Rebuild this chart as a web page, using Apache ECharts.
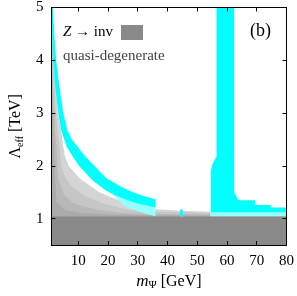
<!DOCTYPE html>
<html><head><meta charset="utf-8">
<script src="https://cdn.jsdelivr.net/npm/echarts@6/dist/echarts.min.js"></script>
<style>html,body{margin:0;padding:0;background:#fff}#c{width:297px;height:296px}</style>
</head><body><div id="c"></div>
<script>
// axis ticks
const xTicks = [10, 20, 30, 40, 50, 60, 70, 80];
const yTicks = [1, 2, 3, 4, 5];
// Z -> inv excluded region upper bound (TeV)
const zInvTop = 1.045;
// quasi-degenerate shaded layers: upper boundary [m_Psi (GeV), Lambda_eff (TeV)]
const quasi1 = [[1,5.2],[1.15,5.0],[1.4,4.5],[2.0,3.8],[3.2,3.0],[4.3,2.67],[5.0,2.36],[5.6,2.18],[6.8,2.0],[10.8,1.75],[17.1,1.5],[23.6,1.35],[30,1.26],[36,1.18],[45,1.15],[55,1.13],[80,1.11]];
const quasi2 = [[1,5.2],[1.1,5.0],[1.5,4.0],[2.2,3.2],[3.0,2.67],[3.8,2.36],[4.3,2.0],[5.5,1.8],[7.5,1.63],[11.9,1.44],[18.3,1.29],[26.8,1.17],[36,1.13],[55,1.11],[80,1.09]];
const quasi3 = [[1,5.2],[1.05,5.0],[1.2,4.0],[1.7,3.2],[2.2,2.67],[2.7,2.36],[3.3,1.75],[5.4,1.44],[8.6,1.29],[16.2,1.17],[24.9,1.11],[36,1.09],[80,1.07]];
const quasi4 = [[1,5.2],[1.02,5.0],[1.1,4.0],[1.4,3.0],[1.8,2.36],[2.2,1.75],[2.7,1.32],[5.4,1.17],[10.8,1.11],[20,1.08],[36,1.065],[80,1.055]];
// cyan band (allowed region) edges
const bandUpper = [[1.5,5.2],[1.55,5.0],[2.0,4.5],[2.6,4.0],[3.7,3.5],[5.0,3.0],[6.4,2.67],[7.9,2.5],[9.9,2.36],[12.4,2.18],[15.5,2.0],[19.4,1.77],[24,1.62],[28,1.51],[32,1.43],[36,1.37]];
const bandLower = [[1.08,5.2],[1.1,5.0],[1.3,4.5],[1.6,4.0],[2.3,3.5],[3.3,3.0],[4.3,2.67],[6.2,2.36],[8.2,2.18],[10.3,2.0],[15,1.72],[19.4,1.53],[22,1.46],[25.8,1.37],[30,1.29],[36,1.21]];
// pale cyan region under the band
const paleBand = [[21,1.49],[25.8,1.38],[30,1.30],[36,1.22],[36,1.045],[33,1.09],[30,1.14],[25.8,1.23],[21.5,1.46]];
// small spike near m = M_Z/2
const spikeBright = [[44.2,1.05],[44.2,1.16],[44.7,1.185],[45.2,1.16],[45.2,1.05]];
const spikePale = [[44.2,1.045],[44.2,1.12],[45.2,1.12],[45.2,1.045]];
// region near the Higgs resonance
const bigBright = [[56.5,5.2],[56.5,2.18],[55.0,2.02],[54.6,1.9],[54.6,1.12],[80,1.12],[80,1.21],[74.9,1.21],[74.7,1.26],[69.6,1.26],[69.4,1.35],[63.9,1.35],[62.4,1.50],[62.4,5.2]];
const bigPale = [[54.4,1.045],[54.4,1.125],[80,1.125],[80,1.045]];
const zInv = [[1,0.5],[80,0.5],[80,zInvTop],[1,zInvTop]];

const xMin = 1, xMax = 80, yMin = 0.5, yMax = 5;
const closeToBase = c => c.concat([[xMax, zInvTop],[xMin, zInvTop]]);

function polySeries(name, pts, color) {
  return {
    type: 'custom', name: name, coordinateSystem: 'cartesian2d', clip: true, silent: true,
    data: pts, encode: {x: 0, y: 1},
    itemStyle: {color: color},
    renderItem: function (params, api) {
      if (params.dataIndex !== 0) return null;
      return {type: 'polygon', shape: {points: pts.map(p => api.coord(p))}, style: {fill: color}};
    }
  };
}

const FONT = 'Liberation Serif';
const chart = echarts.init(document.getElementById('c'), null, {renderer: 'canvas'});
const axisCommon = {
  type: 'value', z: 10,
  axisLine: {show: true, lineStyle: {color: '#000', width: 1}},
  splitLine: {show: false},
  axisTick: {show: true, inside: true, length: 4, lineStyle: {color: '#000'}},
};
chart.setOption({
  animation: false,
  grid: {left: 43, right: 9, top: 7, bottom: 45},
  legend: [{
    orient: 'vertical', left: 63, top: 25, align: 'right', padding: 0,
    itemWidth: 22, itemHeight: 15, selectedMode: false,
    textStyle: {fontFamily: FONT, fontSize: 15, color: '#000', padding: [0, 3, 0, 0],
      rich: {i: {fontFamily: FONT, fontSize: 15, fontStyle: 'italic', color: '#000'}}},
    formatter: n => '{i|Z} → inv',
    data: [{name: 'Z → inv', icon: 'rect', itemStyle: {color: '#898989'}}]
  }, {
    orient: 'vertical', left: 63, top: 49, align: 'right', padding: 0,
    itemWidth: 22, itemHeight: 15, selectedMode: false,
    textStyle: {fontFamily: FONT, fontSize: 15, color: '#444'},
    data: [{name: 'quasi-degenerate', icon: 'rect', itemStyle: {color: 'rgba(0,0,0,0)', opacity: 0}}]
  }],
  xAxis: [
    Object.assign({}, axisCommon, {
      position: 'bottom', min: xMin, max: xMax,
      axisTick: Object.assign({}, axisCommon.axisTick, {customValues: xTicks}),
      axisLabel: {customValues: xTicks, fontFamily: FONT, fontSize: 15, color: '#000', margin: 8},
      name: '{i|m}{s|Ψ} [GeV]', nameLocation: 'middle', nameGap: 25,
      nameTextStyle: {fontFamily: FONT, fontSize: 16, color: '#000',
        rich: {i: {fontFamily: FONT, fontSize: 17, fontStyle: 'italic'}, s: {fontFamily: FONT, fontSize: 11, padding: [8, 0, 0, 0]}}}
    }),
    Object.assign({}, axisCommon, {
      position: 'top', min: xMin, max: xMax,
      axisTick: Object.assign({}, axisCommon.axisTick, {customValues: xTicks}),
      axisLabel: {show: false}
    })
  ],
  yAxis: [
    Object.assign({}, axisCommon, {
      position: 'left', min: yMin, max: yMax,
      axisTick: Object.assign({}, axisCommon.axisTick, {customValues: yTicks}),
      axisLabel: {customValues: yTicks, fontFamily: FONT, fontSize: 15, color: '#000', margin: 8},
      name: '{a|Λ}{s|eff} [TeV]', nameLocation: 'middle', nameGap: 21, nameRotate: 90,
      nameTextStyle: {fontFamily: FONT, fontSize: 16, color: '#000',
        rich: {a: {fontFamily: FONT, fontSize: 16}, s: {fontFamily: FONT, fontSize: 10, padding: [8, 0, 0, 0]}}}
    }),
    Object.assign({}, axisCommon, {
      position: 'right', min: yMin, max: yMax,
      axisTick: Object.assign({}, axisCommon.axisTick, {customValues: yTicks}),
      axisLabel: {show: false}
    })
  ],
  graphic: [{type: 'text', left: 250, top: 22, style: {text: '(b)', font: '18px "Liberation Serif"', fill: '#000'}}],
  series: [
    polySeries('quasi-degenerate', closeToBase(quasi1), '#d4d4d4'),
    polySeries('quasi-degenerate', closeToBase(quasi2), '#c6c6c6'),
    polySeries('quasi-degenerate', closeToBase(quasi3), '#b8b8b8'),
    polySeries('quasi-degenerate', closeToBase(quasi4), '#aaaaaa'),
    polySeries('Z → inv', zInv, '#898989'),
    polySeries('pale', paleBand, '#96ffff'),
    polySeries('pale2', spikePale, '#96ffff'),
    polySeries('pale3', bigPale, '#96ffff'),
    polySeries('band', bandUpper.concat(bandLower.slice().reverse()), '#00ffff'),
    polySeries('spike', spikeBright, '#00ffff'),
    polySeries('big', bigBright, '#00ffff')
  ]
});
</script></body></html>
